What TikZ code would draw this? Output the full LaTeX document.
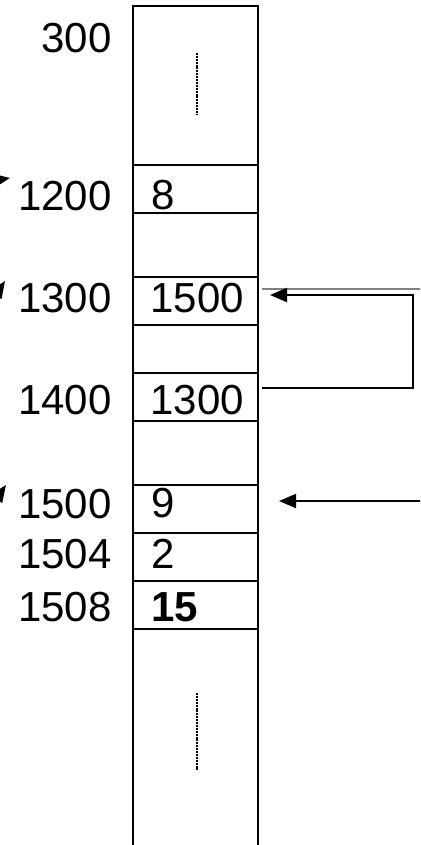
\documentclass[tikz,border=0pt]{standalone}
\usepackage{fontspec}
\setmainfont{Liberation Sans}
\usetikzlibrary{arrows.meta}

\begin{document}
\begin{tikzpicture}[x=0.5pt, y=-0.5pt,
    every node/.style={font=\fontsize{21}{25}\selectfont, inner sep=0pt},
    cell/.style={draw, line width=1pt, minimum width=62.5pt, minimum height=24pt},
    addr/.style={anchor=base east},
    val/.style={anchor=base west},
    arrow/.style={-{Triangle[length=8.5pt,width=7pt]}, line width=1pt},
    gap/.style={line width=1pt, dash pattern=on 1pt off 0.45pt}
]
    \useasboundingbox (0,0) rectangle (420,845);
    \clip (0,0) rectangle (420,845);

    % Speicherspalte
    \draw[line width=1pt] (133,860) -- (133,6) -- (258,6) -- (258,860);
    \draw[gap] (197,53) -- (197,115);
    \draw[gap] (197,693) -- (197,770);

    % Zellen
    \node[cell] (c1200) at (195.5,189) {};
    \node[cell] (c1300) at (195.5,301) {};
    \node[cell] (c1400) at (195.5,397) {};
    \node[cell] (c1500) at (195.5,508.5) {};
    \node[cell] (c1504) at (195.5,557) {};
    \node[cell] (c1508) at (195.5,605) {};

    % Inhalte
    \node[val] (v1200) at (151,210) {8};
    \node[val] (v1300) at (150,312) {1500};
    \node[val] (v1400) at (150,414) {1300};
    \node[val] (v1500) at (151,517) {9};
    \node[val] (v1504) at (151,568) {2};
    \node[val, font=\fontsize{21}{25}\selectfont\bfseries] (v1508) at (151,621) {15};

    % Adressen
    \node[addr] (a300) at (112,53) {300};
    \node[addr] (a1200) at (112,211) {1200};
    \node[addr] (a1300) at (112,312) {1300};
    \node[addr] (a1400) at (112,414) {1400};
    \node[addr] (a1500) at (112,518) {1500};
    \node[addr] (a1504) at (112,568) {1504};
    \node[addr] (a1508) at (112,621) {1508};

    % Zeiger links (abgeschnitten)
    \coordinate (src1200) at (-40,186);
    \coordinate (dst1200) at (10,178);
    \coordinate (src1300) at (-20,318);
    \coordinate (dst1300) at (5,281);
    \coordinate (src1500) at (-20,522);
    \coordinate (dst1500) at (6,485);
    \draw[arrow] (src1200) -- (dst1200);
    \draw[arrow] (src1300) -- (dst1300);
    \draw[arrow] (src1500) -- (dst1500);

    % Zeiger rechts
    \coordinate (rimA) at (425,289);
    \coordinate (rimB) at (425,501);
    \draw[line width=0.6pt, gray] ([xshift=1.5pt,yshift=6pt]c1300.east) -- (rimA);
    \draw[arrow] ([xshift=1.5pt,yshift=4.5pt]c1400.east) -- ++(151,0) |- ([xshift=5.5pt,yshift=3pt]c1300.east);
    \draw[arrow] (rimB) -- ([xshift=10pt,yshift=3.75pt]c1500.east);
\end{tikzpicture}
\end{document}
